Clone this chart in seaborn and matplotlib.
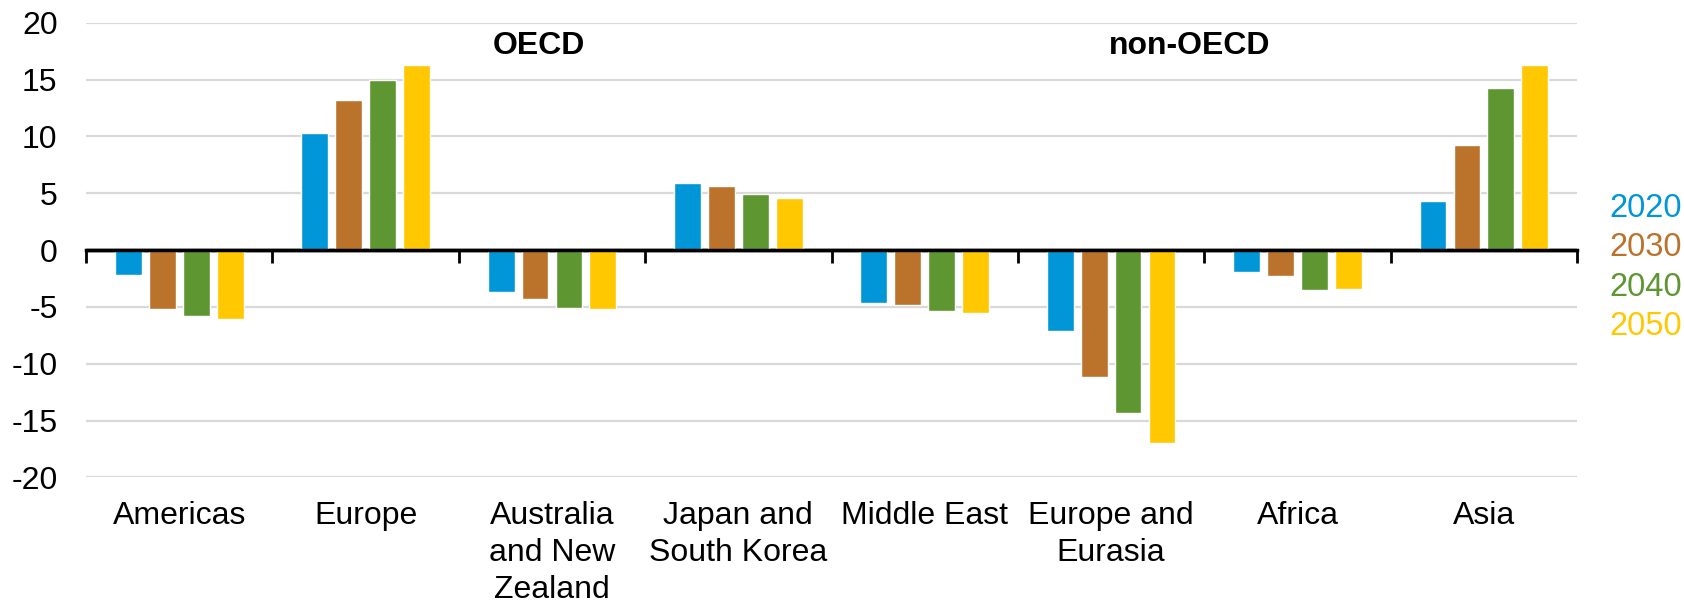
import numpy as np
import pandas as pd
import matplotlib
matplotlib.use('Agg')
import matplotlib.pyplot as plt
import seaborn as sns

regions = ['Americas', 'Europe', 'Australia\nand New\nZealand', 'Japan and\nSouth Korea',
           'Middle East', 'Europe and\nEurasia', 'Africa', 'Asia']
years = ['2020', '2030', '2040', '2050']
v2020 = [-2.2, 10.3, -3.7, 5.9, -4.7, -7.1, -1.9, 4.3]
v2030 = [-5.2, 13.2, -4.3, 5.6, -4.8, -11.2, -2.3, 9.2]
v2040 = [-5.8, 15.0, -5.1, 4.9, -5.4, -14.3, -3.5, 14.3]
v2050 = [-6.1, 16.3, -5.2, 4.6, -5.5, -17.0, -3.4, 16.3]
colors = ['#0096d7', '#bb732c', '#5e9732', '#ffc800']

rows = []
for yr, vals in zip(years, [v2020, v2030, v2040, v2050]):
    for reg, v in zip(regions, vals):
        rows.append({'region': reg, 'year': yr, 'value': v})
df = pd.DataFrame(rows)

sns.set_style('white')
plt.rcParams['font.family'] = ['Liberation Sans', 'DejaVu Sans']
plt.rcParams['axes.unicode_minus'] = False
plt.rcParams['text.color'] = 'black'
plt.rcParams['xtick.color'] = 'black'
plt.rcParams['ytick.color'] = 'black'

fig = plt.figure(figsize=(16.84, 6.02), dpi=100)
ax = fig.add_axes([0.0511, 0.2071, 0.8854, 0.7551])

sns.barplot(data=df, x='region', y='value', hue='year', order=regions, hue_order=years,
            palette=colors, width=0.728, gap=0.21, ax=ax, saturation=1)

ax.set_ylim(-20, 20)
ax.set_xlim(-0.5, len(regions) - 0.5)
ax.set_yticks(np.arange(-20, 21, 5))
ax.yaxis.grid(True, color='#d9d9d9', linewidth=1.6)
ax.set_axisbelow(True)
for s in ax.spines.values():
    s.set_visible(False)
ax.set_xlabel('')
ax.set_ylabel('')
ax.tick_params(axis='both', length=0, labelsize=23, labelcolor='black')
ax.tick_params(axis='x', pad=17)
ax.tick_params(axis='y', pad=20.5)
for t in ax.get_xticklabels():
    t.set_linespacing(1.3)
    t.set_va('top')

# zero line with category separators
ax.axhline(0, color='black', linewidth=2.5, zorder=5)
sec = ax.secondary_xaxis(0.5)
sec.set_alignment('bottom')
sec.set_xticks(np.arange(-0.5, len(regions), 1))
sec.tick_params(length=9, width=2, labelbottom=False, labeltop=False, colors='black')
sec.spines['bottom'].set_linewidth(2.5)
sec.spines['bottom'].set_color('black')

ax.text(1.93, 17.95, 'OECD', ha='center', va='center', fontsize=23, fontweight='bold')
ax.text(5.42, 17.95, 'non-OECD', ha='center', va='center', fontsize=23, fontweight='bold')

leg = ax.legend(loc='center left', bbox_to_anchor=(1.022, 0.462), frameon=False,
                handlelength=0, handletextpad=0, borderpad=0, borderaxespad=0,
                labelspacing=0.26, fontsize=23.5, labelcolor=colors)
for h in leg.legend_handles:
    h.set_visible(False)

fig.savefig('out.png', dpi=100)
